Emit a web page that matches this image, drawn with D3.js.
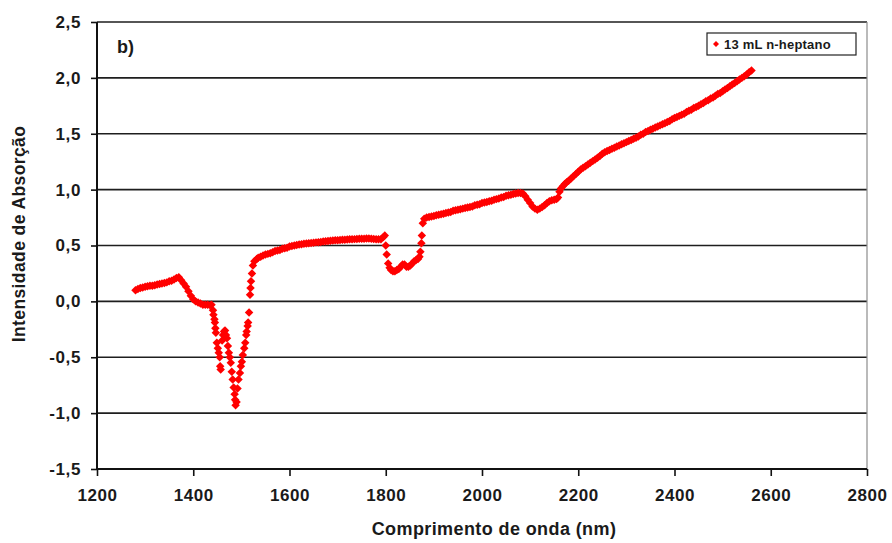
<!DOCTYPE html>
<html>
<head>
<meta charset="utf-8">
<script src="https://cdn.jsdelivr.net/npm/d3@7"></script>
<style>
  html, body { margin: 0; padding: 0; background: #fff; }
  svg { display: block; }
  text { font-family: "Liberation Sans", Arial, sans-serif; font-weight: bold; fill: #1a1a1a; }
</style>
</head>
<body>
<svg id="chart" width="892" height="543"></svg>
<script>
// ---- Data: [wavelength (nm), absorption intensity] ----
const seriesName = "13 mL n-heptano";
const panelLabel = "b)";
const xTitle = "Comprimento de onda (nm)";
const yTitle = "Intensidade de Absorção";
const xTickValues = [1200, 1400, 1600, 1800, 2000, 2200, 2400, 2600, 2800];
const yTickValues = [-1.5, -1.0, -0.5, 0.0, 0.5, 1.0, 1.5, 2.0, 2.5];

const segBaseline = [
  [1280,0.10],[1285,0.11],[1290,0.12],[1295,0.125],[1300,0.13],[1305,0.135],[1310,0.14],[1315,0.14],
  [1320,0.145],[1325,0.15],[1330,0.155],[1335,0.16],[1340,0.165],[1345,0.17],[1350,0.18],[1355,0.185],
  [1360,0.195],[1365,0.21],[1370,0.215],[1375,0.19],[1380,0.16],[1385,0.13],[1390,0.09],[1395,0.05],
  [1400,0.02],[1405,0.00],[1410,-0.01],[1415,-0.02],[1420,-0.03],[1425,-0.03],[1430,-0.03],[1435,-0.035]
];
const segDip = [
  [1438,-0.03],[1441,-0.08],[1442,-0.12],[1444,-0.16],[1445,-0.19],[1446,-0.24],[1447,-0.28],[1449,-0.37],
  [1451,-0.42],[1453,-0.46],[1455,-0.50],[1456,-0.58],[1457,-0.61],[1460,-0.35],[1462,-0.30],[1464,-0.27],
  [1466,-0.26],[1468,-0.30],[1470,-0.33],[1472,-0.40],[1474,-0.46],[1476,-0.50],[1478,-0.55],[1480,-0.63],
  [1482,-0.70],[1484,-0.77],[1486,-0.83],[1487,-0.88],[1488,-0.93],[1490,-0.90],[1492,-0.78],[1494,-0.70],
  [1497,-0.64],[1499,-0.58],[1501,-0.54],[1503,-0.48],[1506,-0.42],[1508,-0.37],[1510,-0.30],[1511,-0.27],
  [1513,-0.22],[1514,-0.19],[1516,-0.10],[1518,0.06],[1519,0.12],[1520,0.18],[1522,0.25],[1524,0.32],
  [1527,0.36],[1532,0.38]
];
const segPlateau = [
  [1535,0.39],[1540,0.40],[1545,0.41],[1550,0.42],[1555,0.425],[1560,0.43],[1565,0.44],[1570,0.45],
  [1575,0.455],[1580,0.46],[1585,0.47],[1590,0.475],[1595,0.48],[1600,0.49],[1605,0.495],[1610,0.50],
  [1615,0.505],[1620,0.51],[1625,0.512],[1630,0.515],[1635,0.518],[1640,0.52],[1645,0.522],[1650,0.525],
  [1655,0.528],[1660,0.53],[1665,0.532],[1670,0.535],[1675,0.537],[1680,0.54],[1685,0.542],[1690,0.544],
  [1695,0.546],[1700,0.548],[1705,0.55],[1710,0.551],[1715,0.552],[1720,0.554],[1725,0.555],[1730,0.556],
  [1735,0.557],[1740,0.558],[1745,0.56],[1750,0.561],[1755,0.561],[1760,0.562],[1765,0.562],[1770,0.56],
  [1775,0.558],[1780,0.556],[1785,0.555],[1790,0.556],[1795,0.575],[1798,0.59]
];
const segTrough = [
  [1800,0.50],[1802,0.42],[1805,0.34],[1808,0.30],[1811,0.28],[1815,0.27],[1819,0.27],[1823,0.28],
  [1827,0.29],[1831,0.31],[1835,0.33],[1839,0.33],[1843,0.31],[1847,0.31],[1851,0.32],[1855,0.34],
  [1859,0.36],[1863,0.37],[1867,0.38],[1870,0.40],[1872,0.445],[1874,0.52],[1875,0.59],[1877,0.70]
];
const segRise = [
  [1880,0.74],[1885,0.75],[1890,0.755],[1895,0.76],[1900,0.765],[1905,0.77],[1910,0.775],[1915,0.78],
  [1920,0.785],[1925,0.79],[1930,0.795],[1935,0.80],[1940,0.81],[1945,0.815],[1950,0.82],[1955,0.825],
  [1960,0.83],[1965,0.835],[1970,0.84],[1975,0.845],[1980,0.85],[1985,0.86],[1990,0.865],[1995,0.87],
  [2000,0.88],[2005,0.885],[2010,0.89],[2015,0.895],[2020,0.90],[2025,0.91],[2030,0.915],[2035,0.92],
  [2040,0.93],[2045,0.935],[2050,0.945],[2055,0.95],[2060,0.955],[2065,0.96],[2070,0.965],[2075,0.97],
  [2080,0.97],[2085,0.965],[2090,0.94],[2095,0.91],[2100,0.88],[2105,0.85],[2110,0.83],[2115,0.82],
  [2120,0.83],[2125,0.845],[2130,0.86],[2135,0.88],[2140,0.895],[2145,0.905],[2150,0.91],[2155,0.915],
  [2158,0.93],[2161,0.98],[2164,1.01],[2168,1.03],[2172,1.05],[2176,1.065],[2180,1.08],[2185,1.10],
  [2190,1.12],[2195,1.14],[2200,1.16],[2205,1.18],[2210,1.195],[2215,1.21],[2220,1.225],[2225,1.24],
  [2230,1.255],[2235,1.27],[2240,1.285],[2245,1.30],[2250,1.32],[2255,1.335],[2260,1.345],[2265,1.355],
  [2270,1.365],[2275,1.375],[2280,1.385],[2285,1.395],[2290,1.405],[2295,1.415],[2300,1.425],[2305,1.435],
  [2310,1.445],[2315,1.455],[2320,1.465],[2325,1.475],[2330,1.49],[2335,1.50],[2340,1.515],[2345,1.525],
  [2350,1.535],[2355,1.545],[2360,1.555],[2365,1.565],[2370,1.575],[2375,1.585],[2380,1.595],[2385,1.605],
  [2390,1.615],[2395,1.63],[2400,1.64],[2405,1.65],[2410,1.66],[2415,1.67],[2420,1.68],[2425,1.695],
  [2430,1.705],[2435,1.715],[2440,1.73],[2445,1.74],[2450,1.75],[2455,1.765],[2460,1.775],[2465,1.79],
  [2470,1.80],[2475,1.815],[2480,1.825],[2485,1.84],[2490,1.855],[2495,1.865],[2500,1.88],[2505,1.895],
  [2510,1.91],[2515,1.925],[2520,1.94],[2525,1.955],[2530,1.97],[2535,1.985],[2540,2.00],[2545,2.015],
  [2550,2.03],[2555,2.05],[2560,2.065]
];
const spectrum = [].concat(segBaseline, segDip, segPlateau, segTrough, segRise);

// ---- Layout ----
const svg = d3.select("#chart");
const plot = { left: 97, right: 867, top: 22, bottom: 469 };
const red = "#ff0000";

const x = d3.scaleLinear().domain([1200, 2800]).range([plot.left, plot.right]);
const y = d3.scaleLinear().domain([-1.5, 2.5]).range([plot.bottom, plot.top]);

const fmt = d => d.toFixed(1).replace(".", ",");

// Gridlines
svg.append("g").selectAll("line")
  .data(yTickValues.filter(v => v > -1.5))
  .join("line")
  .attr("x1", plot.left).attr("x2", plot.right)
  .attr("y1", d => y(d)).attr("y2", d => y(d))
  .attr("stroke", "#1e1e1e").attr("stroke-width", 1.6);

// Right border (grey)
svg.append("line")
  .attr("x1", plot.right).attr("x2", plot.right)
  .attr("y1", plot.top).attr("y2", plot.bottom)
  .attr("stroke", "#8c8c8c").attr("stroke-width", 1.2);

// Axes
const yAxis = d3.axisLeft(y).tickValues(yTickValues).tickFormat(fmt).tickSize(6).tickPadding(10);
const xAxis = d3.axisBottom(x).tickValues(xTickValues).tickFormat(d => String(d)).tickSize(7).tickPadding(13);

const gy = svg.append("g").attr("transform", `translate(${plot.left},0)`).call(yAxis);
const gx = svg.append("g").attr("transform", `translate(0,${plot.bottom})`).call(xAxis);
[gy, gx].forEach(g => {
  g.select(".domain").attr("stroke", "#111").attr("stroke-width", 2);
  g.selectAll(".tick line").attr("stroke", "#111").attr("stroke-width", 1.6);
  g.selectAll(".tick text")
    .attr("fill", "#1a1a1a")
    .style("font-family", '"Liberation Sans", Arial, sans-serif')
    .style("font-weight", "bold")
    .style("font-size", "17px")
    .style("letter-spacing", "0.6px");
});
gy.select(".domain").attr("d", `M0,${plot.top}V${plot.bottom}`);
gx.select(".domain").attr("d", `M${plot.left},0H${plot.right}`);

// Markers (diamonds)
const diamond = d3.symbol().type(d3.symbolSquare).size(36);
svg.append("g").selectAll("path")
  .data(spectrum)
  .join("path")
  .attr("d", diamond)
  .attr("transform", d => `translate(${x(d[0])},${y(d[1])}) rotate(45)`)
  .attr("fill", red);

// Panel label
svg.append("text")
  .attr("x", 117).attr("y", 53)
  .style("font-size", "18px")
  .text(panelLabel);

// Axis titles
svg.append("text")
  .attr("x", 494).attr("y", 535)
  .attr("text-anchor", "middle")
  .style("font-size", "18px")
  .style("letter-spacing", "0.4px")
  .text(xTitle);

svg.append("text")
  .attr("transform", "translate(25,234) rotate(-90)")
  .attr("text-anchor", "middle")
  .style("font-size", "17.5px")
  .style("letter-spacing", "0.4px")
  .text(yTitle);

// Legend
const legend = svg.append("g");
legend.append("rect")
  .attr("x", 707).attr("y", 33).attr("width", 149).attr("height", 22)
  .attr("fill", "#fff").attr("stroke", "#222").attr("stroke-width", 1.2);
legend.append("path")
  .attr("d", d3.symbol().type(d3.symbolSquare).size(18))
  .attr("transform", "translate(716,44) rotate(45)")
  .attr("fill", red);
legend.append("text")
  .attr("x", 724).attr("y", 49)
  .style("font-size", "13px")
  .style("letter-spacing", "0.2px")
  .text(seriesName);
</script>
</body>
</html>
